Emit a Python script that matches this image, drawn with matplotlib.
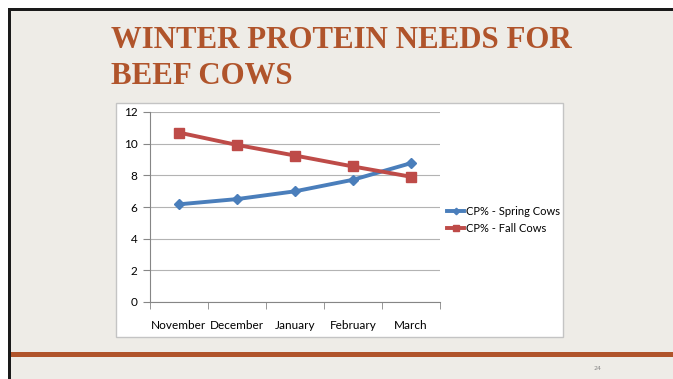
import matplotlib.pyplot as plt
from matplotlib.patches import Rectangle

months = ['November', 'December', 'January', 'February', 'March']
spring = [6.17, 6.5, 6.99, 7.72, 8.77]
fall = [10.7, 9.92, 9.25, 8.56, 7.91]
y_ticks = [0, 2, 4, 6, 8, 10, 12]

W, H = 673, 379
fig = plt.figure(figsize=(W / 100, H / 100), dpi=100)
fig.patch.set_facecolor('white')


def px(x0, y0, x1, y1):
    # pixel box (top-left origin) -> figure fraction
    return (x0 / W, 1 - y1 / H, (x1 - x0) / W, (y1 - y0) / H)


# slide background + black frame on top/left
bg = fig.add_axes([0, 0, 1, 1])
bg.set_xlim(0, W)
bg.set_ylim(H, 0)
bg.axis('off')
bg.add_patch(Rectangle((8, 8), W, H, facecolor='#1a1a1a', edgecolor='none'))
bg.add_patch(Rectangle((11, 11), W, H, facecolor='#eeece7', edgecolor='none'))
bg.add_patch(Rectangle((11, 352), W, 4.5, facecolor='#b0542b', edgecolor='none'))
bg.add_patch(Rectangle((116, 103), 447, 234, facecolor='white', edgecolor='#c4c4c4', lw=1))
bg.text(597, 368, '24', fontsize=4.5, color='#888888', ha='center', va='center')
bg.text(111, 48, 'WINTER PROTEIN NEEDS FOR', fontsize=22.2, fontweight='bold',
        family='Liberation Serif', color='#b0542b', va='baseline')
bg.text(111, 84, 'BEEF COWS', fontsize=22.2, fontweight='bold',
        family='Liberation Serif', color='#b0542b', va='baseline')

ax = fig.add_axes(px(150, 112, 440, 302))
ax.set_facecolor('none')
x = range(len(months))
ax.plot(x, spring, color='#4a7ebb', lw=2.8, marker='D', ms=5.5, label='CP% - Spring Cows')
ax.plot(x, fall, color='#be4b48', lw=2.8, marker='s', ms=7, label='CP% - Fall Cows')
ax.set_xlim(-0.5, len(months) - 0.5)
ax.set_ylim(0, 12)
ax.set_yticks(y_ticks)
ax.set_xticks(list(x))
ax.set_xticklabels(months)
ax.set_xticks([i - 0.5 for i in range(len(months) + 1)], minor=True)
ax.tick_params(axis='x', which='major', length=0, pad=13, labelsize=8.5)
ax.tick_params(axis='x', which='minor', length=5, color='#868686')
ax.tick_params(axis='y', length=5, color='#868686', labelsize=8.5, pad=4)
for lab in ax.get_xticklabels() + ax.get_yticklabels():
    lab.set_family('Lato')
ax.grid(axis='y', color='#b3b3b3', lw=0.8)
ax.set_axisbelow(True)
for s in ['top', 'right']:
    ax.spines[s].set_visible(False)
for s in ['left', 'bottom']:
    ax.spines[s].set_color('#868686')

ax.legend(loc='center left', bbox_to_anchor=(1.0, 0.43), frameon=False,
          prop={'family': 'Lato', 'size': 8}, handlelength=1.6, handletextpad=0.15,
          labelspacing=0.55, borderaxespad=0.2, markerscale=0.6)

fig.savefig('out.png', dpi=100)
